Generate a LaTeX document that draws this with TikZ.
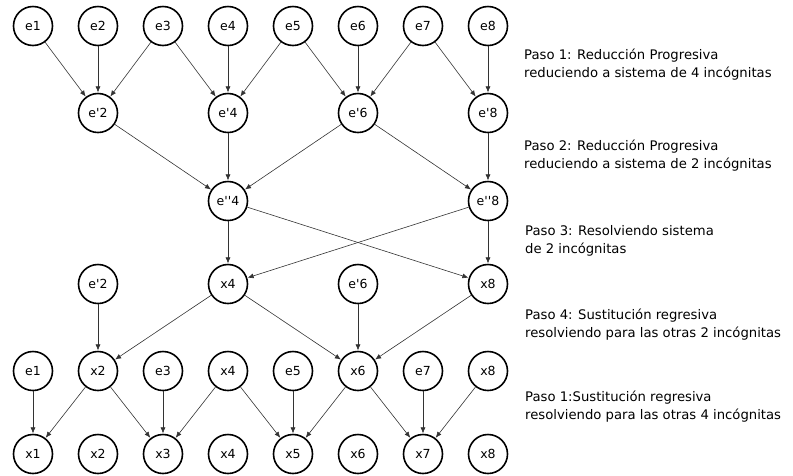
\documentclass[tikz,border=0pt]{standalone}
\usepackage{fontspec}
\setmainfont{DejaVu Sans}
\usetikzlibrary{arrows.meta}

\tikzset{
  var/.style={circle,draw,line width=1.6pt,minimum size=39pt,inner sep=0pt,font=\fontsize{12.5}{14}\selectfont},
  link/.style={-{Latex[length=6pt,width=5pt]},line width=0.6pt,draw=black!80,shorten >=0.3pt},
  paso/.style={anchor=west,align=left,inner sep=0pt,font=\fontsize{13.2}{18}\selectfont}
}
\newcommand{\pr}{\textquotesingle}

\begin{document}
\begin{tikzpicture}[x=1pt,y=-1pt]
  \useasboundingbox (0,0) rectangle (793,475);

  % reduccion progresiva
  \node[var] (e1) at (33,26) {e1};
  \node[var] (e2) at (98,26) {e2};
  \node[var] (e3) at (163,26) {e3};
  \node[var] (e4) at (228,26) {e4};
  \node[var] (e5) at (293,26) {e5};
  \node[var] (e6) at (358,26) {e6};
  \node[var] (e7) at (423,26) {e7};
  \node[var] (e8) at (488,26) {e8};

  \node[var] (p2) at (98,113) {e\pr2};
  \node[var] (p4) at (228,113) {e\pr4};
  \node[var] (p6) at (358,113) {e\pr6};
  \node[var] (p8) at (488,113) {e\pr8};

  \node[var] (pp4) at (228,201) {e\pr\pr4};
  \node[var] (pp8) at (488,201) {e\pr\pr8};

  \draw[link] (e1) -- (p2);
  \draw[link] (e2) -- (p2);
  \draw[link] (e3) -- (p2);
  \draw[link] (e3) -- (p4);
  \draw[link] (e4) -- (p4);
  \draw[link] (e5) -- (p4);
  \draw[link] (e5) -- (p6);
  \draw[link] (e6) -- (p6);
  \draw[link] (e7) -- (p6);
  \draw[link] (e7) -- (p8);
  \draw[link] (e8) -- (p8);

  \draw[link] (p2) -- (pp4);
  \draw[link] (p4) -- (pp4);
  \draw[link] (p6) -- (pp4);
  \draw[link] (p6) -- (pp8);
  \draw[link] (p8) -- (pp8);

  % sistema de 2 incognitas
  \node[var] (q2) at (98,284) {e\pr2};
  \node[var] (sx4) at (228,284) {x4};
  \node[var] (q6) at (358,284) {e\pr6};
  \node[var] (sx8) at (488,284) {x8};

  \draw[link] (pp4) -- (sx4);
  \draw[link] (pp4) -- (sx8);
  \draw[link] (pp8) -- (sx4);
  \draw[link] (pp8) -- (sx8);

  % sustitucion regresiva
  \node[var] (r1) at (33,371) {e1};
  \node[var] (rx2) at (98,371) {x2};
  \node[var] (r3) at (163,371) {e3};
  \node[var] (rx4) at (228,371) {x4};
  \node[var] (r5) at (293,371) {e5};
  \node[var] (rx6) at (358,371) {x6};
  \node[var] (r7) at (423,371) {e7};
  \node[var] (rx8) at (488,371) {x8};

  \draw[link] (q2) -- (rx2);
  \draw[link] (sx4) -- (rx2);
  \draw[link] (sx4) -- (rx6);
  \draw[link] (q6) -- (rx6);
  \draw[link] (sx8) -- (rx6);

  \node[var] (x1) at (33,454) {x1};
  \node[var] (x2) at (98,454) {x2};
  \node[var] (x3) at (163,454) {x3};
  \node[var] (x4) at (228,454) {x4};
  \node[var] (x5) at (293,454) {x5};
  \node[var] (x6) at (358,454) {x6};
  \node[var] (x7) at (423,454) {x7};
  \node[var] (x8) at (488,454) {x8};

  \draw[link] (r1) -- (x1);
  \draw[link] (rx2) -- (x1);
  \draw[link] (rx2) -- (x3);
  \draw[link] (r3) -- (x3);
  \draw[link] (rx4) -- (x3);
  \draw[link] (rx4) -- (x5);
  \draw[link] (r5) -- (x5);
  \draw[link] (rx6) -- (x5);
  \draw[link] (rx6) -- (x7);
  \draw[link] (r7) -- (x7);
  \draw[link] (rx8) -- (x7);

  % pasos
  \node[paso] (paso1) at (524,65) {Paso 1: Reducción Progresiva\\reduciendo a sistema de 4 incógnitas};
  \node[paso] (paso2) at (524,156) {Paso 2: Reducción Progresiva\\reduciendo a sistema de 2 incógnitas};
  \node[paso] (paso3) at (525,241) {Paso 3: Resolviendo sistema\\de 2 incógnitas};
  \node[paso] (paso4) at (525,325) {Paso 4: Sustitución regresiva\\resolviendo para las otras 2 incógnitas};
  \node[paso] (paso5) at (525,407) {Paso 1:Sustitución regresiva\\resolviendo para las otras 4 incógnitas};
\end{tikzpicture}
\end{document}
